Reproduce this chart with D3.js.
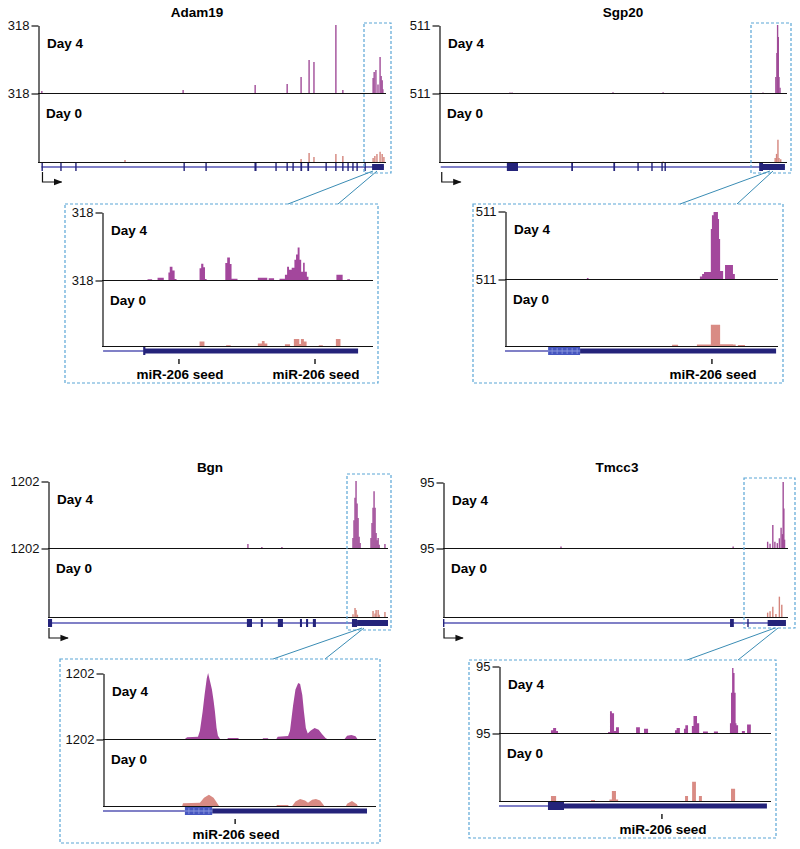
<!DOCTYPE html>
<html><head><meta charset="utf-8">
<script src="https://cdn.jsdelivr.net/npm/d3@7"></script>
<style>
body{margin:0;background:#fff}
text{font-family:"Liberation Sans",Arial,Helvetica,sans-serif}
</style>
</head><body>
<svg id="c" width="800" height="849"></svg>
<script>
// ================= DATA =================
const genes = ["Adam19", "Sgp20", "Bgn", "Tmcc3"];
const yMax = [318, 511, 1202, 95];
const trackLabels = ["Day 4", "Day 0"];
const seedLabel = "miR-206 seed";

// ---- whole-locus tracks: [position (% of locus), reads] ----
const adam19Day4 = [[1.1,9],[41.7,14],[62.4,37],[71.6,42],[75.6,75],[77.9,154],[79.3,145],[85.6,318],[87.6,14],
  [96.3,70],[96.6,98],[97.1,107],[97.7,40],[98.3,168],[98.6,80],[98.9,60],[99.1,18]];
const adam19Day0 = [[25,9],[75.6,14],[77.9,42],[79.3,23],[85.6,37],[87.6,28],[96.3,19],[96.8,28],[97.4,37],[98.3,47],[98.9,37],[99.4,23]];
const adam19Exons = [[1.0,1.4],[6.4,6.8],[10.7,11.1],[41.8,42.2],[48.1,48.5],[62.2,62.8],[68.2,68.6],[71.4,71.8],[73.1,73.5],
  [75.4,75.9],[77.4,77.9],[82.6,83.0],[85.4,85.8],[87.4,87.8],[88.9,89.3],[90.3,90.7],[91.5,91.9],[93.8,94.2]];
const adam19Utr = [[96.0,99.4]];
const adam19Span = [1.0,99.4];

const sgp20Day4 = [[20.4,4],[21.0,4],[50,5],[64.4,6],[93.1,3],[96.8,120],[97.1,300],[97.3,511],[97.5,420],[97.7,120],[98.0,40]];
const sgp20Day0 = [[64.4,4],[96.6,30],[97.0,60],[97.4,165],[97.7,30],[98.2,20]];
const sgp20Exons = [[19.5,22.7],[38.0,38.5],[50.1,50.6],[57.0,57.4],[61.0,61.4],[63.9,64.3],[64.8,65.2],[92.0,93.1]];
const sgp20Utr = [[93.1,99.4]];
const sgp20Span = [0.5,99.4];

const bgnDay4 = [[58.8,72],[62.9,18],[68.8,18],[89.7,180],[90.0,500],[90.3,900],[90.6,1202],[90.9,800],[91.2,540],[91.5,200],[91.8,90],
  [95.0,180],[95.3,450],[95.6,720],[95.9,1020],[96.2,720],[96.5,270],[96.8,140],[97.1,180],[97.4,60],[99.1,72]];
const bgnDay0 = [[89.7,50],[90.3,157],[90.6,120],[91.0,40],[95.6,104],[96.2,60],[96.5,120],[97.1,120],[97.4,40],[99.1,87]];
const bgnExons = [[0,1.2],[58.5,60.0],[62.6,63.2],[67.6,69.1],[74.1,74.7],[75.9,76.5],[77.9,78.8],[89.4,90.9]];
const bgnUtr = [[90.9,100]];
const bgnSpan = [0,100];

const tmcc3Day4 = [[34.2,2],[84.1,2],[94.1,9],[94.8,6],[95.6,33],[96.2,9],[96.9,7],[97.5,14],[98.0,29],[98.4,20],[98.6,95],[98.8,57],[99.0,12]];
const tmcc3Day0 = [[94.1,6],[94.8,8],[95.6,14],[96.5,4],[97.5,28],[98.2,17]];
const tmcc3Exons = [[0,0.4],[83.2,84.3],[88.2,88.6]];
const tmcc3Utr = [[94.1,99.4]];
const tmcc3Span = [0,99.4];

// ---- zoomed 3' regions: step coverage [position (% of window), reads] ----
const adam19ZoomDay4 = [[16.8,4],[18.5,0],[20.5,10],[22.8,0],[24.5,35],[25.0,62],[26.0,45],[26.8,5],[27.5,0],
  [36.0,55],[36.6,76],[37.4,60],[38.0,5],[38.6,0],[45.5,80],[46.2,105],[47.2,75],[47.8,6],[50,0],
  [57.5,10],[61,0],[61.5,8],[63.5,0],[65.5,6],[67.5,24],[68.3,62],[69,48],[70,57],[71,95],[71.6,119],[72.2,152],
  [72.9,95],[73.5,38],[74.2,81],[74.8,38],[75.6,15],[76.2,0],[86.5,25],[88.8,0],[90.5,4],[91.5,0]];
const adam19ZoomDay0 = [[36.0,22],[37.8,0],[45.8,4],[47.5,0],[57.5,12],[59,24],[60,12],[61,0],[67.5,8],[69.4,0],
  [70.8,34],[72.8,10],[73.4,34],[74.5,22],[75.5,0],[80,4],[81.5,0],[86.3,34],[88,0]];
const adam19ZoomThin = [0.4,15.5], adam19ZoomCds = [15.2,16.0], adam19ZoomUtr = [15.5,94.5];
const adam19Seeds = [28.4,78.6];

const sgp20ZoomDay4 = [[30,8],[30.6,0],[71.4,19],[72.2,37],[72.9,52],[75.4,375],[75.8,480],[76.4,503],[78.0,450],[78.4,300],
  [78.8,60],[79.9,0],[80.6,105],[83.5,37],[84.2,0]];
const sgp20ZoomDay0 = [[61.2,10],[63.4,0],[70.3,12],[75.4,162],[78.8,14],[83.5,12],[84.5,0],[85.3,8],[87.9,0]];
const sgp20ZoomThin = [0,15.8], sgp20ZoomCds = [15.8,27.5], sgp20ZoomUtr = [27.5,99.3];
const sgp20Seeds = [75.8];

const bgnZoomDay4 = [[30,0],[30.8,30],[34.8,40],[35.5,150],[36.5,500],[37.2,800],[38.0,1100],[38.5,1202],[39.2,1050],[39.9,900],
  [40.5,700],[41.0,500],[41.6,200],[42.1,60],[42.9,0],[45.5,0],[45.8,18],[49.5,18],[49.8,0],[58.5,0],[58.6,15],[60.4,15],[60.6,0],
  [63.5,0],[64,40],[67.8,55],[68.5,150],[69.6,600],[70.5,900],[71.5,1020],[72.2,1000],[73.0,800],[73.6,500],[74.3,200],
  [75.0,100],[76.0,150],[77.5,200],[79,170],[80.2,90],[81.5,20],[82.1,0],[88.5,0],[89.4,60],[91,75],[92.5,50],[93.2,0]];
const bgnZoomDay0 = [[29,0],[29.3,50],[35.5,60],[37,150],[38.8,200],[40.5,150],[42.1,30],[42.5,0],[63.5,0],[63.7,18],[67.8,18],[68,0],
  [69.3,0],[70.5,80],[72.2,127],[74,100],[75.1,60],[76.6,110],[78,127],[79.5,100],[80.6,30],[81,0],
  [89,0],[89.4,40],[91.2,90],[93,30],[93.3,0]];
const bgnZoomThin = [0,30], bgnZoomCds = [30,40], bgnZoomUtr = [40,96.7];
const bgnSeeds = [48.4];

const tmcc3ZoomDay4 = [[19.1,4],[19.9,7],[21.0,3],[21.7,0],[40.1,1.5],[40.8,31],[41.5,28],[42.3,3],[43.0,8],[44.1,0],
  [50.4,8],[51.8,0],[53.3,6],[54.8,0],[64.7,4],[65.3,7],[66.5,0],[68.0,6],[68.5,11],[69.5,0],[70.9,10],[71.5,24],[72.8,14],[73.6,0],
  [75.0,2],[76.8,0],[79.0,2],[80.5,0],[84.9,14],[85.3,57],[85.7,92],[86.2,85],[86.6,57],[87.0,14],[87.3,11],[87.9,0],
  [89.3,3],[90.4,0],[91.2,12],[92.6,0]];
const tmcc3ZoomDay0 = [[19.1,7],[21.0,0],[33.8,1.5],[35.3,0],[40.6,2],[41.5,14],[43.0,2],[43.8,0],[68.4,7],[69.5,0],
  [71.0,27],[72.4,0],[73.5,7],[74.6,0],[85.3,17],[86.8,0]];
const tmcc3ZoomThin = [0,18], tmcc3ZoomCds = [18,23.9], tmcc3ZoomUtr = [23.9,98.5];
const tmcc3Seeds = [59.9];

// ================= LAYOUT / STYLE =================
const C = {day4:"#a3479c", day0:"#d98b84", day4Spike:"#a04c98", day0Spike:"#d4857c",
  intron:"#5656b4", exon:"#24237a", cds:"#4656c0", box:"#5aa6d6", conn:"#3a8cb4", axis:"#111"};

const panels = [
  {name:genes[0], max:yMax[0], d4:adam19Day4, d0:adam19Day0, exons:adam19Exons, utr:adam19Utr, span:adam19Span,
   z4:adam19ZoomDay4, z0:adam19ZoomDay0, zThin:adam19ZoomThin, zCds:adam19ZoomCds, zUtr:adam19ZoomUtr, seeds:adam19Seeds,
   striped:false, curve:d3.curveStepAfter, title:[197,17],
   main:{x0:38,x1:386,yTop:25,yMid:93,yBot:162,geneY:167}, box:[364,23,391,173],
   ins:{x0:102,x1:373,yTop:212,yMid:280,yBot:346,geneY:351}, ibox:[65,204,378,383],
   conn:[[373,171,288,204],[377,171,338,204]]},
  {name:genes[1], max:yMax[1], d4:sgp20Day4, d0:sgp20Day0, exons:sgp20Exons, utr:sgp20Utr, span:sgp20Span,
   z4:sgp20ZoomDay4, z0:sgp20ZoomDay0, zThin:sgp20ZoomThin, zCds:sgp20ZoomCds, zUtr:sgp20ZoomUtr, seeds:sgp20Seeds,
   striped:true, curve:d3.curveStepAfter, title:[623,17],
   main:{x0:439,x1:787,yTop:25,yMid:93,yBot:162,geneY:167}, box:[751,23,791,173],
   ins:{x0:505,x1:778,yTop:211,yMid:279,yBot:346,geneY:351}, ibox:[473,204,783,383],
   conn:[[770,171,680,204],[773,171,737,204]]},
  {name:genes[2], max:yMax[2], d4:bgnDay4, d0:bgnDay0, exons:bgnExons, utr:bgnUtr, span:bgnSpan,
   z4:bgnZoomDay4, z0:bgnZoomDay0, zThin:bgnZoomThin, zCds:bgnZoomCds, zUtr:bgnZoomUtr, seeds:bgnSeeds,
   striped:true, curve:d3.curveLinear, title:[210,472],
   main:{x0:48,x1:388,yTop:481,yMid:548,yBot:617,geneY:623}, box:[347,474,391,630],
   ins:{x0:103,x1:376,yTop:673,yMid:739,yBot:806,geneY:811}, ibox:[60,659,380,843],
   conn:[[362,628,273,659],[364,628,325,659]]},
  {name:genes[3], max:yMax[3], d4:tmcc3Day4, d0:tmcc3Day0, exons:tmcc3Exons, utr:tmcc3Utr, span:tmcc3Span,
   z4:tmcc3ZoomDay4, z0:tmcc3ZoomDay0, zThin:tmcc3ZoomThin, zCds:tmcc3ZoomCds, zUtr:tmcc3ZoomUtr, seeds:tmcc3Seeds,
   striped:false, curve:d3.curveStepAfter, title:[617,472],
   main:{x0:443,x1:788,yTop:482,yMid:548,yBot:617,geneY:623}, box:[744,478,795,628],
   ins:{x0:499,x1:771,yTop:666,yMid:733,yBot:801,geneY:806}, ibox:[469,660,776,838],
   conn:[[775,628,687,660],[778,628,738,660]]}
];

const svg = d3.select("#c");
const defs = svg.append("defs");
defs.append("marker").attr("id","arr").attr("viewBox","0 0 10 10").attr("refX",9).attr("refY",5)
  .attr("markerWidth",7).attr("markerHeight",7).attr("orient","auto")
  .append("path").attr("d","M0,1 L10,5 L0,9 Z").attr("fill","#111");

function baselines(g, L) {
  [L.yMid, L.yBot].forEach(yy => g.append("line").attr("x1",L.x0).attr("x2",L.x1).attr("y1",yy+0.5).attr("y2",yy+0.5)
    .attr("stroke",C.axis).attr("stroke-width",1.2));
}

function axes(g, L, max) {
  const y4 = d3.scaleLinear().domain([0,max]).range([L.yMid, L.yTop]);
  const y0 = d3.scaleLinear().domain([0,max]).range([L.yBot, L.yMid]);
  [y4, y0].forEach(y => {
    const a = g.append("g").attr("transform",`translate(${L.x0+0.5},0.5)`)
      .call(d3.axisLeft(y).tickValues([max]).tickSize(7).tickSizeOuter(0).tickPadding(2).tickFormat(d3.format("d")));
    a.selectAll("path,line").attr("stroke",C.axis).attr("stroke-width",1.2);
    a.selectAll("text").attr("font-family","Liberation Sans, Arial, sans-serif").attr("font-size",13).attr("fill","#111");
  });
  baselines(g, L);
  g.append("text").attr("x",L.x0+9).attr("y",L.yTop+23).attr("font-weight","bold").attr("font-size",13.5).text(trackLabels[0]);
  g.append("text").attr("x",L.x0+8).attr("y",L.yMid+25).attr("font-weight","bold").attr("font-size",13.5).text(trackLabels[1]);
  return [y4, y0];
}

panels.forEach(p => {
  const g = svg.append("g");
  g.append("text").attr("x",p.title[0]).attr("y",p.title[1]).attr("text-anchor","middle")
    .attr("font-weight","bold").attr("font-size",13.5).text(p.name);

  // ---------- main locus ----------
  const M = p.main;
  const x = d3.scaleLinear().domain([0,100]).range([M.x0, M.x1]);
  const gm = g.append("g");
  const [y4, y0] = axes(gm, M, p.max);
  gm.append("g").selectAll("line").data(p.d4).join("line")
    .attr("x1",d=>x(d[0])).attr("x2",d=>x(d[0])).attr("y1",y4(0)).attr("y2",d=>y4(d[1]))
    .attr("stroke",C.day4Spike).attr("stroke-width",1.4);
  gm.append("g").selectAll("line").data(p.d0).join("line")
    .attr("x1",d=>x(d[0])).attr("x2",d=>x(d[0])).attr("y1",y0(0)).attr("y2",d=>y0(d[1]))
    .attr("stroke",C.day0Spike).attr("stroke-width",1.4);
  baselines(gm, M);
  // gene model
  gm.append("line").attr("x1",x(p.span[0])).attr("x2",x(p.span[1])).attr("y1",M.geneY).attr("y2",M.geneY)
    .attr("stroke",C.intron).attr("stroke-width",1.4);
  gm.append("g").selectAll("rect").data(p.exons).join("rect")
    .attr("x",d=>x(d[0])).attr("width",d=>Math.max(1.4,x(d[1])-x(d[0])))
    .attr("y",M.geneY-4).attr("height",8).attr("fill",C.exon);
  gm.append("g").selectAll("rect").data(p.utr).join("rect")
    .attr("x",d=>x(d[0])).attr("width",d=>x(d[1])-x(d[0]))
    .attr("y",M.geneY-3).attr("height",6).attr("fill",C.exon);
  // TSS arrow
  const sx = x(p.span[0]) + 1;
  gm.append("path").attr("d",`M${sx},${M.geneY+5} V${M.geneY+15} H${sx+19}`)
    .attr("fill","none").attr("stroke","#111").attr("stroke-width",1.2).attr("marker-end","url(#arr)");
  // zoom box + connectors
  g.append("rect").attr("x",p.box[0]).attr("y",p.box[1]).attr("width",p.box[2]-p.box[0]).attr("height",p.box[3]-p.box[1])
    .attr("fill","none").attr("stroke",C.box).attr("stroke-width",1.2).attr("stroke-dasharray","3,2");
  p.conn.forEach(c => g.append("line").attr("x1",c[0]).attr("y1",c[1]).attr("x2",c[2]).attr("y2",c[3])
    .attr("stroke",C.conn).attr("stroke-width",1));
  g.append("rect").attr("x",p.ibox[0]).attr("y",p.ibox[1]).attr("width",p.ibox[2]-p.ibox[0]).attr("height",p.ibox[3]-p.ibox[1])
    .attr("fill","none").attr("stroke",C.box).attr("stroke-width",1.2).attr("stroke-dasharray","3,2");

  // ---------- inset ----------
  const I = p.ins;
  const xi = d3.scaleLinear().domain([0,100]).range([I.x0, I.x1]);
  const gi = g.append("g");
  const [yi4, yi0] = axes(gi, I, p.max);
  const area4 = d3.area().x(d=>xi(d[0])).y0(yi4(0)).y1(d=>yi4(d[1])).curve(p.curve);
  const area0 = d3.area().x(d=>xi(d[0])).y0(yi0(0)).y1(d=>yi0(d[1])).curve(p.curve);
  gi.append("path").datum(p.z4).attr("d",area4).attr("fill",C.day4);
  gi.append("path").datum(p.z0).attr("d",area0).attr("fill",C.day0);
  baselines(gi, I);
  // gene
  gi.append("line").attr("x1",xi(p.zThin[0])).attr("x2",xi(p.zThin[1])).attr("y1",I.geneY).attr("y2",I.geneY)
    .attr("stroke",C.intron).attr("stroke-width",1.6);
  gi.append("rect").attr("x",xi(p.zUtr[0])).attr("width",xi(p.zUtr[1])-xi(p.zUtr[0]))
    .attr("y",I.geneY-2.5).attr("height",5).attr("fill",C.exon);
  const cw = xi(p.zCds[1]) - xi(p.zCds[0]);
  gi.append("rect").attr("x",xi(p.zCds[0])).attr("width",cw).attr("y",I.geneY-4).attr("height",8)
    .attr("fill", p.striped ? C.cds : C.exon);
  if (p.striped) {
    gi.append("line").attr("x1",xi(p.zCds[0])).attr("x2",xi(p.zCds[1])).attr("y1",I.geneY).attr("y2",I.geneY)
      .attr("stroke","#9aa6e6").attr("stroke-width",0.8);
    d3.range(xi(p.zCds[0])+4, xi(p.zCds[1])-1, 5).forEach(vx => gi.append("line")
      .attr("x1",vx).attr("x2",vx).attr("y1",I.geneY-3).attr("y2",I.geneY+3)
      .attr("stroke","#8e9be0").attr("stroke-width",0.8));
  }
  // seeds
  p.seeds.forEach(s => {
    gi.append("line").attr("x1",xi(s)).attr("x2",xi(s)).attr("y1",I.geneY+8).attr("y2",I.geneY+13)
      .attr("stroke","#111").attr("stroke-width",1.4);
    gi.append("text").attr("x",xi(s)+1).attr("y",I.geneY+28).attr("text-anchor","middle")
      .attr("font-weight","bold").attr("font-size",13.5).text(seedLabel);
  });
});
</script>
</body></html>
